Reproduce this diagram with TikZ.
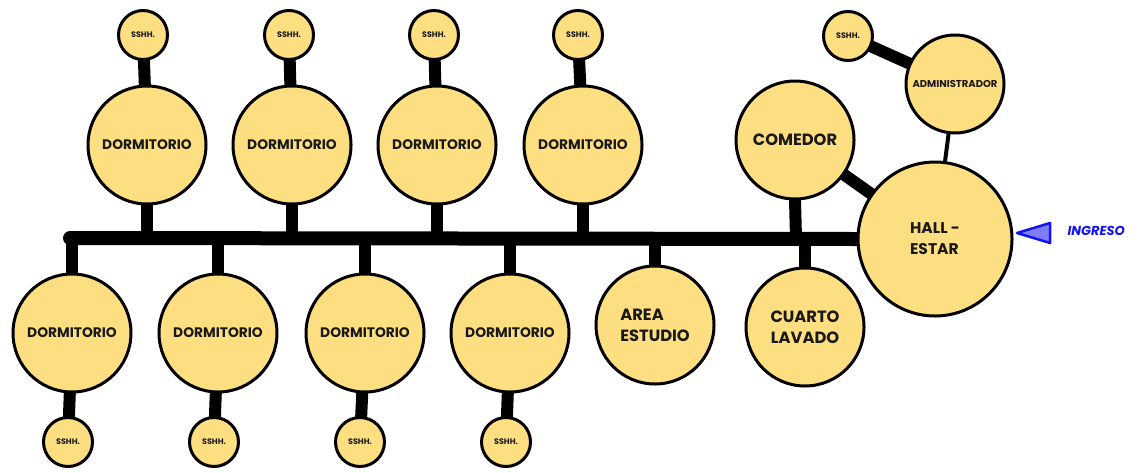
\documentclass[tikz,border=0pt]{standalone}
\usepackage{fontspec}
\setmainfont{Poppins}
\usetikzlibrary{backgrounds}
\definecolor{roomfill}{RGB}{253,222,128}
\definecolor{ingblue}{RGB}{20,20,240}
\begin{document}
\begin{tikzpicture}[x=1pt,y=-1pt,
  room/.style={circle,draw=black,line width=3pt,fill=roomfill,inner sep=0pt,
    font=\bfseries\fontsize{13.8}{16}\selectfont,text=black!90},
  big/.style={room,minimum size=118pt},
  bigtxt/.style={big,font=\bfseries\fontsize{16.3}{21}\selectfont},
  small/.style={room,minimum size=49pt,font=\bfseries\fontsize{8}{9}\selectfont},
  link/.style={line width=12pt,line cap=round,draw=black},
  thin/.style={line width=4pt,draw=black},
]
\useasboundingbox (0,0) rectangle (1139,472);
% top row
\node[big] (dt1) at (147,145) {DORMITORIO};
\node[big] (dt2) at (292,145) {DORMITORIO};
\node[big] (dt3) at (437,145) {DORMITORIO};
\node[big] (dt4) at (583,145) {DORMITORIO};
\node[small] (st1) at (143,35) {SSHH.};
\node[small] (st2) at (289,35) {SSHH.};
\node[small] (st3) at (434,35) {SSHH.};
\node[small] (st4) at (578,35) {SSHH.};
% bottom row
\node[big] (db1) at (72,333) {DORMITORIO};
\node[big] (db2) at (218,333) {DORMITORIO};
\node[big] (db3) at (365,333) {DORMITORIO};
\node[big] (db4) at (510,333) {DORMITORIO};
\node[small] (sb1) at (68,442) {SSHH.};
\node[small] (sb2) at (214,442) {SSHH.};
\node[small] (sb3) at (360,442) {SSHH.};
\node[small] (sb4) at (506,442) {SSHH.};
\node[bigtxt,align=left] (area) at (655,325) {AREA\\ESTUDIO};
\node[bigtxt,align=center] (cuarto) at (805,327) {CUARTO\\LAVADO};
\node[bigtxt] (comedor) at (795,140) {COMEDOR};
\node[room,minimum size=154pt,align=left,font=\bfseries\fontsize{15.5}{21}\selectfont] (hall) at (935,239) {HALL -\\ESTAR};
\node[room,minimum size=98pt,font=\bfseries\fontsize{10}{12}\selectfont] (admin) at (955,84) {ADMINISTRADOR};
\node[small] (sadm) at (848,36) {SSHH.};
% bus coordinates
\coordinate (busL) at (70,238);
\foreach \n/\x in {t1/147,t2/292,t3/437,t4/583,b1/72,b2/218,b3/365,b4/510}
  \coordinate (k\n) at (\x,238);
\coordinate (karea) at (655,238);
\coordinate (kcom) at (796,238);
\coordinate (kcua) at (805,238);
\coordinate (ing) at (1017,233);
\begin{scope}[on background layer]
  \draw[link,line width=14pt] (busL) -- (hall.west);
  \foreach \n in {1,2,3,4}{
    \draw[link] (dt\n.south) -- (kt\n);
    \draw[link] (db\n.north) -- (kb\n);
    \draw[link] (st\n) -- (dt\n);
    \draw[link] (sb\n) -- (db\n);
  }
  \draw[link] (area.north) -- (karea);
  \draw[link] (comedor.south) -- (kcom);
  \draw[link] (cuarto.north) -- (kcua);
  \draw[link] (comedor) -- (hall);
  \draw[link] (sadm) -- (admin);
  \draw[thin] (admin) -- (hall);
\end{scope}
% ingreso
\draw[draw=ingblue,fill=ingblue!55,line width=2.5pt,line join=round]
  (ing) -- (1050,223) -- (1050,243) -- cycle;
\node[text=ingblue,font=\bfseries\itshape\fontsize{13}{15}\selectfont,anchor=west] (ingt) at (1064,231) {INGRESO};
\end{tikzpicture}
\end{document}
